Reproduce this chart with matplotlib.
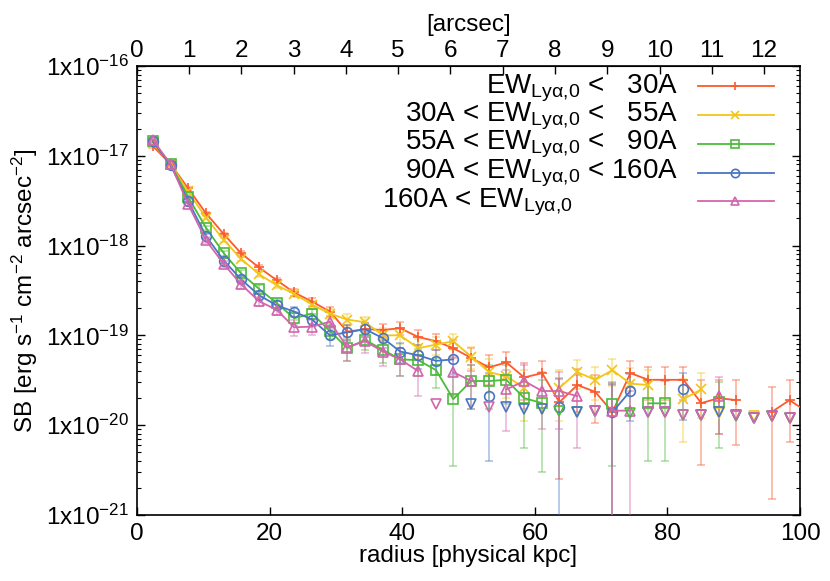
# radial surface brightness profiles, binned by Lya equivalent width
import numpy as np
import matplotlib.pyplot as plt
from matplotlib.lines import Line2D
from matplotlib.ticker import LogLocator, FuncFormatter, NullFormatter

plt.rcParams['font.family'] = ['Liberation Sans', 'DejaVu Sans']
plt.rcParams['mathtext.default'] = 'regular'

nan = np.nan

# radius bins [physical kpc]
radius = [2.4, 5.1, 7.7, 10.4, 13.1, 15.7, 18.4, 21.1, 23.7, 26.4,
          29.1, 31.7, 34.4, 37.1, 39.7, 42.4, 45.1, 47.7, 50.4, 53.1,
          55.7, 58.4, 61.1, 63.7, 66.4, 69.1, 71.7, 74.4, 77.1, 79.7,
          82.4, 85.1, 87.7, 90.4, 93.1, 95.7, 98.4, 101.1]

# SB [erg/s/cm2/arcsec2], nan = no detection
sb_lt30 = [1.28e-17, 8.0e-18, 4.35e-18, 2.29e-18, 1.34e-18, 8.2e-19, 5.7e-19, 4.1e-19, 3.0e-19, 2.38e-19,
           1.84e-19, 1.1e-19, 1.17e-19, 1.15e-19, 1.2e-19, 9.6e-20, 8.6e-20, 7.2e-20, 5.6e-20, 4.4e-20,
           5.0e-20, 3.4e-20, 3.8e-20, 1.8e-20, 2.8e-20, 2.35e-20, 1.4e-20, 3.8e-20, 3.2e-20, 3.2e-20,
           3.2e-20, 1.76e-20, 2.0e-20, 1.9e-20, nan, 1.4e-20, 1.9e-20, 1.4e-20]
sb_30_55 = [1.38e-17, 8.0e-18, 4.0e-18, 2.05e-18, 1.15e-18, 7.1e-19, 4.8e-19, 3.6e-19, 2.9e-19, 2.2e-19,
            1.74e-19, 1.5e-19, 1.4e-19, 1.0e-19, 1.0e-19, 7.2e-20, 7.9e-20, 8.6e-20, 5.8e-20, 3.9e-20,
            3.5e-20, 2.6e-20, nan, 2.6e-20, 3.9e-20, 3.2e-20, 4.1e-20, 2.9e-20, 2.8e-20, nan,
            1.95e-20, 2.5e-20, nan, nan, nan, nan, nan, nan]
sb_55_90 = [1.44e-17, 8.0e-18, 3.5e-18, 1.58e-18, 8.2e-19, 4.9e-19, 3.3e-19, 2.28e-19, 1.55e-19, 1.75e-19,
            1.12e-19, 7.2e-20, 8.9e-20, 6.9e-20, 5.4e-20, 5.3e-20, 4.1e-20, 1.95e-20, 3.1e-20, 3.1e-20,
            3.2e-20, 2.0e-20, 1.76e-20, nan, nan, nan, 1.7e-20, nan, 1.75e-20, 1.75e-20,
            nan, nan, 1.8e-20, nan, nan, nan, nan, nan]
sb_90_160 = [1.44e-17, 7.8e-18, 3.15e-18, 1.28e-18, 6.8e-19, 4.2e-19, 2.8e-19, 2.15e-19, 1.84e-19, 1.5e-19,
             1.0e-19, 1.08e-19, 1.17e-19, 9.3e-20, 6.6e-20, 6.0e-20, 5.2e-20, 5.4e-20, nan, 2.1e-20,
             nan, nan, nan, 1.6e-20, nan, nan, 1.4e-20, 2.4e-20, nan, nan,
             2.5e-20, nan, nan, nan, nan, nan, nan, nan]
sb_gt160 = [1.5e-17, 8.0e-18, 2.9e-18, 1.15e-18, 6.2e-19, 3.7e-19, 2.4e-19, 1.92e-19, 1.23e-19, 1.25e-19,
            1.42e-19, 7.4e-20, 8.6e-20, 6.6e-20, 5.4e-20, 4.0e-20, nan, 3.9e-20, 3.1e-20, nan,
            2.5e-20, 3.1e-20, 2.4e-20, 2.4e-20, 2.1e-20, nan, 1.45e-20, 1.45e-20, nan, nan,
            nan, nan, 2.1e-20, nan, nan, nan, nan, nan]

# 1 sigma errors in units of 1e-20
err_lt30 = [70, 30, 15, 8, 5, 4, 3, 2.5, 2.5, 2.4,
            2.2, 2.2, 2.2, 2.0, 2.0, 1.8, 1.8, 1.6, 1.6, 1.6,
            1.5, 1.5, 1.4, 1.55, 1.4, 1.3, 1.4, 1.4, 1.3, 1.3,
            1.3, 1.4, 1.2, 1.3, nan, 1.25, 1.25, 1.2]
err_30_55 = [70, 30, 15, 8, 5, 4, 3, 2.5, 2.5, 2.4,
             2.2, 2.2, 2.2, 2.0, 2.0, 1.8, 1.8, 1.7, 1.6, 1.6,
             1.5, 1.5, nan, 1.5, 1.4, 1.3, 1.4, 1.4, 1.3, nan,
             1.3, 1.3, nan, nan, nan, nan, nan, nan]
err_55_90 = [70, 30, 15, 8, 5, 4, 3, 2.5, 2.5, 2.4,
             2.2, 2.0, 2.0, 2.0, 1.9, 1.8, 1.5, 1.6, 1.6, 1.6,
             1.5, 1.45, 1.46, nan, nan, nan, 1.35, nan, 1.35, 1.35,
             nan, nan, 1.25, nan, nan, nan, nan, nan]
err_90_160 = [70, 30, 15, 8, 5, 4, 3, 2.5, 2.5, 2.4,
              2.4, 2.2, 2.2, 2.0, 1.7, 1.8, 1.6, 1.7, nan, 1.7,
              nan, nan, nan, 1.7, nan, nan, 1.5, 1.3, nan, nan,
              1.35, nan, nan, nan, nan, nan, nan, nan]
err_gt160 = [70, 30, 15, 8, 5, 4, 3, 2.5, 2.5, 2.4,
             2.4, 2.2, 2.2, 2.0, 1.9, 1.9, nan, 1.8, 1.6, nan,
             1.64, 1.6, 1.5, 1.5, 1.55, nan, 1.5, 1.5, nan, nan,
             nan, nan, 1.3, nan, nan, nan, nan, nan]

# upper limits (open down triangles)
lim_lt30 = [nan] * 38
lim_30_55 = [nan] * 22 + [1.5e-20] + [nan] * 6 + [1.4e-20, nan, nan,
             1.35e-20, 1.3e-20, 1.25e-20, 1.25e-20, 1.2e-20, nan]
lim_55_90 = [nan] * 23 + [1.45e-20, 1.4e-20, 1.45e-20, nan, 1.35e-20, nan, nan,
             1.3e-20, 1.3e-20, nan, 1.27e-20, 1.2e-20, 1.27e-20, 1.2e-20, nan]
lim_90_160 = [nan] * 18 + [1.7e-20, nan, 1.6e-20, 1.5e-20, 1.5e-20, nan, 1.4e-20, 1.45e-20,
              nan, nan, 1.4e-20, 1.4e-20, nan, 1.3e-20, 1.4e-20, 1.3e-20, 1.2e-20,
              1.27e-20, 1.2e-20, nan]
lim_gt160 = [nan] * 16 + [1.7e-20, nan, nan, 1.6e-20, nan, nan, nan, nan, nan, 1.45e-20,
             nan, nan, 1.4e-20, 1.4e-20, 1.3e-20, 1.3e-20, nan, 1.3e-20, 1.2e-20,
             1.27e-20, 1.2e-20, nan]

labels = ['EW$_{Lyα{,}0}$ <   30A',
          '30A < EW$_{Lyα{,}0}$ <   55A',
          '55A < EW$_{Lyα{,}0}$ <   90A',
          '90A < EW$_{Lyα{,}0}$ < 160A',
          '160A < EW$_{Lyα{,}0}$']
colors = ['#fc5a2d', '#f2c618', '#4cbb3a', '#4a74c4', '#d266ac']
markers = ['+', 'x', 's', 'o', '^']

sb_all = [sb_lt30, sb_30_55, sb_55_90, sb_90_160, sb_gt160]
err_all = [err_lt30, err_30_55, err_55_90, err_90_160, err_gt160]
lim_all = [lim_lt30, lim_30_55, lim_55_90, lim_90_160, lim_gt160]

KPC_PER_ARCSEC = 7.88

fig = plt.figure(figsize=(8.3, 5.81), dpi=100)
ax = fig.add_axes([0.165, 0.1136, 0.799, 0.773])

x = np.array(radius)
for sb, err, lim, c, m in zip(sb_all, err_all, lim_all, colors, markers):
    y = np.array(sb)
    dy = np.array(err) * 1e-20
    ax.errorbar(x, y, yerr=dy, color=c, marker=m, ms=7, mfc='none', mew=1.2,
                lw=1.3, ecolor=c, elinewidth=1.2, capsize=3, capthick=1.2,
                zorder=3)
    ax.plot(x, lim, linestyle='none', marker='v', ms=7, mfc='none',
            mec=c, mew=1.2, zorder=5)

# soften error bars like the reference
for coll in ax.collections:
    coll.set_alpha(0.45)
for ln in ax.lines:
    if ln.get_marker() == '_':
        ln.set_alpha(0.45)

ax.set_yscale('log')
ax.set_xlim(0, 100)
ax.set_ylim(1e-21, 1e-16)
ax.set_yticks([1e-21, 1e-20, 1e-19, 1e-18, 1e-17, 1e-16])
ax.yaxis.set_minor_locator(LogLocator(base=10, subs=np.arange(2, 10), numticks=20))
ax.yaxis.set_minor_formatter(NullFormatter())
ax.yaxis.set_major_formatter(FuncFormatter(
    lambda v, p: '1x10$^{%d}$' % int(round(np.log10(v)))))
ax.set_xticks([0, 20, 40, 60, 80, 100])
ax.tick_params(which='major', direction='in', length=6, width=1,
               labelsize=17.5, right=True, top=False, pad=6)
ax.tick_params(which='minor', direction='in', length=3, width=0.8, right=True)
ax.set_xlabel('radius [physical kpc]', fontsize=17.5, labelpad=0)
ax.set_ylabel('SB [erg s$^{-1}$ cm$^{-2}$ arcsec$^{-2}$]', fontsize=17.5, labelpad=4)
for sp in ax.spines.values():
    sp.set_linewidth(1.2)

secax = ax.secondary_xaxis('top', functions=(lambda k: k / KPC_PER_ARCSEC,
                                             lambda a: a * KPC_PER_ARCSEC))
secax.set_xticks(range(13))
secax.tick_params(direction='in', length=6, width=1, labelsize=17.5, pad=3)
secax.set_xlabel('[arcsec]', fontsize=17.5, labelpad=6)

# gnuplot-style key: right-justified text, sample line to the right
text_y = [0.939, 0.876, 0.813, 0.750, 0.685]
line_y = [0.955, 0.891, 0.827, 0.762, 0.699]
for i, (lab, c, m) in enumerate(zip(labels, colors, markers)):
    if i < 4:
        ax.text(0.816, text_y[i], lab, transform=ax.transAxes, ha='right',
                va='baseline', fontsize=20)
    else:
        ax.text(0.369, text_y[i], lab, transform=ax.transAxes, ha='left',
                va='baseline', fontsize=20)
    ax.add_line(Line2D([0.846, 0.960], [line_y[i], line_y[i]], color=c, lw=1.3,
                       transform=ax.transAxes))
    ax.add_line(Line2D([0.902], [line_y[i]], color=c, marker=m, ms=6,
                       mfc='none', mew=1.2, transform=ax.transAxes))

fig.savefig('out.png', dpi=100)
